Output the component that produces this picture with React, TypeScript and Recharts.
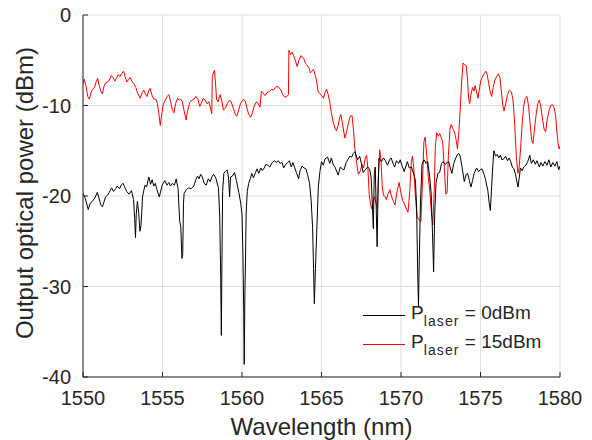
import React from 'react';
import { LineChart, Line, XAxis, YAxis, CartesianGrid, Label, Legend } from 'recharts';

const FONT = '"Liberation Sans", Arial, Helvetica, sans-serif';
const TXT = '#262626';

const xTicks = [1550, 1555, 1560, 1565, 1570, 1575, 1580];
const yTicks = [-40, -30, -20, -10, 0];

const seriesNames = ['0dBm', '15dBm'];
const seriesColors = ['#000000', '#ff0000'];

// P_laser = 0 dBm (black)
const blackWl = [
  1550.00, 1550.15, 1550.33, 1550.45, 1550.58, 1550.75, 1550.90, 1551.00, 1551.12, 1551.22,
  1551.42, 1551.55, 1551.65, 1551.80, 1551.92, 1552.05, 1552.15, 1552.30, 1552.40, 1552.52,
  1552.62, 1552.75, 1552.90, 1553.05, 1553.18, 1553.25, 1553.30, 1553.35, 1553.42, 1553.50,
  1553.58, 1553.65, 1553.75, 1553.90, 1554.00, 1554.14, 1554.25, 1554.35, 1554.45, 1554.55,
  1554.65, 1554.80, 1554.98, 1555.15, 1555.28, 1555.40, 1555.50, 1555.62, 1555.75, 1555.86,
  1555.98, 1556.08, 1556.15, 1556.22, 1556.27, 1556.32, 1556.36, 1556.50, 1556.65, 1556.80,
  1556.97, 1557.10, 1557.20, 1557.30, 1557.40, 1557.50, 1557.62, 1557.75, 1557.88, 1558.00,
  1558.10, 1558.22, 1558.35, 1558.52, 1558.60, 1558.66, 1558.70, 1558.74, 1558.78, 1558.86,
  1558.95, 1559.06, 1559.15, 1559.22, 1559.28, 1559.40, 1559.53, 1559.65, 1559.80, 1559.92,
  1560.00, 1560.06, 1560.11, 1560.14, 1560.18, 1560.22, 1560.26, 1560.33, 1560.42, 1560.52,
  1560.62, 1560.72, 1560.85, 1560.95, 1561.05, 1561.18, 1561.28, 1561.40, 1561.50, 1561.63,
  1561.75, 1561.90, 1562.05, 1562.15, 1562.28, 1562.40, 1562.52, 1562.62, 1562.75, 1562.88,
  1562.98, 1563.10, 1563.20, 1563.32, 1563.42, 1563.56, 1563.65, 1563.78, 1563.90, 1564.02,
  1564.12, 1564.25, 1564.35, 1564.44, 1564.50, 1564.55, 1564.62, 1564.70, 1564.80, 1564.90,
  1565.00, 1565.12, 1565.22, 1565.38, 1565.52, 1565.62, 1565.75, 1565.85, 1566.05, 1566.18,
  1566.30, 1566.42, 1566.55, 1566.65, 1566.78, 1566.90, 1567.00, 1567.10, 1567.27, 1567.40,
  1567.52, 1567.62, 1567.75, 1567.90, 1568.02, 1568.12, 1568.20, 1568.26, 1568.32, 1568.38,
  1568.45, 1568.50, 1568.55, 1568.62, 1568.77, 1568.90, 1569.02, 1569.15, 1569.28, 1569.38,
  1569.52, 1569.60, 1569.72, 1569.85, 1569.95, 1570.05, 1570.20, 1570.40, 1570.52, 1570.66,
  1570.80, 1570.90, 1570.98, 1571.05, 1571.10, 1571.15, 1571.22, 1571.32, 1571.45, 1571.58,
  1571.68, 1571.80, 1571.90, 1571.98, 1572.05, 1572.12, 1572.20, 1572.32, 1572.43, 1572.55,
  1572.64, 1572.78, 1572.90, 1573.00, 1573.10, 1573.20, 1573.32, 1573.42, 1573.55, 1573.63,
  1573.72, 1573.82, 1573.98, 1574.10, 1574.19, 1574.30, 1574.40, 1574.50, 1574.60, 1574.76,
  1574.88, 1574.98, 1575.10, 1575.22, 1575.32, 1575.46, 1575.55, 1575.62, 1575.70, 1575.78,
  1575.84, 1575.95, 1576.05, 1576.15, 1576.25, 1576.35, 1576.47, 1576.58, 1576.70, 1576.80,
  1576.90, 1577.00, 1577.10, 1577.20, 1577.30, 1577.36, 1577.45, 1577.51, 1577.62, 1577.72,
  1577.85, 1577.97, 1578.10, 1578.20, 1578.32, 1578.45, 1578.55, 1578.70, 1578.80, 1578.92,
  1579.05, 1579.18, 1579.30, 1579.42, 1579.55, 1579.68, 1579.80, 1579.92, 1580.00,
];
const blackDbm = [
  -19.7, -20.3, -21.5, -20.8, -20.6, -20.2, -19.6, -20.2, -21.0, -21.2,
  -20.1, -19.9, -19.6, -19.1, -19.5, -19.2, -18.9, -19.2, -18.8, -18.6,
  -19.0, -19.5, -19.8, -19.4, -20.4, -22.5, -24.6, -22.0, -20.6, -21.8,
  -23.9, -23.2, -20.0, -18.8, -19.0, -17.9, -18.7, -18.2, -18.9, -18.6,
  -19.3, -20.1, -18.8, -18.3, -18.8, -18.5, -18.9, -18.6, -18.8, -18.1,
  -19.2, -22.8, -23.4, -26.9, -26.5, -20.8, -19.7, -19.3, -19.1, -19.2,
  -18.9, -18.2, -17.8, -18.1, -17.6, -17.9, -18.6, -18.8, -18.1, -18.4,
  -17.9, -17.6, -18.0, -19.1, -22.3, -29.0, -35.4, -27.0, -19.5, -17.5,
  -17.3, -17.1, -17.9, -20.1, -17.9, -17.8, -17.4, -18.3, -19.6, -20.8,
  -22.0, -26.5, -33.0, -38.6, -31.0, -27.2, -22.0, -19.5, -18.6, -18.1,
  -17.5, -18.0, -17.4, -17.0, -17.5, -16.9, -17.2, -16.9, -16.5, -16.6,
  -16.8, -16.3, -16.1, -16.3, -16.1, -16.4, -16.3, -16.9, -16.5, -16.3,
  -16.1, -16.8, -16.3, -16.9, -17.4, -18.1, -17.2, -16.7, -16.9, -17.0,
  -17.6, -18.6, -20.5, -23.5, -28.0, -31.9, -28.0, -24.0, -19.0, -17.3,
  -16.2, -16.6, -15.9, -15.7, -16.4, -15.8, -16.6, -16.8, -17.7, -16.8,
  -17.0, -17.1, -16.3, -16.0, -15.6, -15.7, -15.3, -15.1, -16.0, -15.6,
  -16.5, -17.4, -17.1, -16.8, -17.0, -17.9, -21.0, -23.6, -17.5, -16.8,
  -22.0, -25.6, -20.0, -15.8, -16.2, -15.8, -16.1, -16.6, -16.0, -15.8,
  -16.5, -16.8, -16.1, -16.4, -16.0, -16.6, -17.3, -16.2, -16.9, -16.8,
  -17.6, -18.2, -21.0, -28.5, -32.2, -27.0, -21.0, -16.5, -16.0, -16.4,
  -16.2, -17.8, -19.8, -24.0, -28.4, -22.0, -18.6, -17.5, -17.4, -16.4,
  -16.2, -16.5, -16.3, -16.2, -16.9, -17.5, -16.4, -15.9, -15.4, -15.3,
  -15.6, -16.6, -18.4, -17.6, -17.5, -18.3, -19.0, -18.3, -17.5, -16.9,
  -17.3, -17.1, -17.0, -17.6, -18.2, -19.4, -20.8, -21.6, -19.0, -16.5,
  -15.0, -15.6, -15.4, -15.8, -15.5, -16.0, -15.9, -15.6, -16.1, -15.8,
  -16.2, -16.8, -17.0, -17.6, -18.5, -19.0, -17.8, -16.9, -17.2, -16.8,
  -16.6, -16.2, -15.5, -16.4, -16.0, -16.5, -16.1, -16.8, -16.3, -16.7,
  -16.2, -16.6, -16.0, -16.8, -16.3, -16.7, -16.2, -17.1, -16.7,
];

// P_laser = 15 dBm (red)
const redWl = [
  1550.00, 1550.08, 1550.18, 1550.30, 1550.40, 1550.50, 1550.60, 1550.72, 1550.82, 1550.92,
  1551.02, 1551.12, 1551.22, 1551.32, 1551.42, 1551.55, 1551.65, 1551.78, 1551.88, 1552.00,
  1552.10, 1552.22, 1552.32, 1552.42, 1552.55, 1552.65, 1552.76, 1552.88, 1552.97, 1553.10,
  1553.20, 1553.32, 1553.45, 1553.60, 1553.72, 1553.82, 1553.92, 1554.02, 1554.15, 1554.22,
  1554.35, 1554.45, 1554.58, 1554.68, 1554.78, 1554.86, 1554.95, 1555.05, 1555.18, 1555.30,
  1555.40, 1555.50, 1555.62, 1555.72, 1555.82, 1555.95, 1556.05, 1556.15, 1556.25, 1556.35,
  1556.48, 1556.58, 1556.70, 1556.85, 1556.98, 1557.10, 1557.22, 1557.35, 1557.45, 1557.57,
  1557.68, 1557.80, 1557.92, 1558.02, 1558.10, 1558.13, 1558.20, 1558.27, 1558.33, 1558.40,
  1558.50, 1558.62, 1558.72, 1558.83, 1558.95, 1559.08, 1559.22, 1559.32, 1559.45, 1559.58,
  1559.67, 1559.78, 1559.90, 1559.98, 1560.10, 1560.20, 1560.30, 1560.42, 1560.55, 1560.65,
  1560.78, 1560.90, 1561.00, 1561.13, 1561.22, 1561.32, 1561.45, 1561.55, 1561.66, 1561.76,
  1561.86, 1561.98, 1562.10, 1562.20, 1562.32, 1562.45, 1562.56, 1562.70, 1562.82, 1562.92,
  1562.95, 1563.05, 1563.15, 1563.25, 1563.35, 1563.47, 1563.58, 1563.70, 1563.78, 1563.88,
  1563.98, 1564.08, 1564.20, 1564.30, 1564.40, 1564.50, 1564.58, 1564.68, 1564.78, 1564.90,
  1565.02, 1565.12, 1565.22, 1565.32, 1565.42, 1565.52, 1565.62, 1565.73, 1565.85, 1565.94,
  1566.05, 1566.15, 1566.22, 1566.32, 1566.47, 1566.58, 1566.68, 1566.80, 1566.92, 1567.00,
  1567.10, 1567.22, 1567.32, 1567.45, 1567.55, 1567.65, 1567.75, 1567.84, 1567.92, 1568.00,
  1568.08, 1568.15, 1568.25, 1568.35, 1568.45, 1568.52, 1568.58, 1568.66, 1568.74, 1568.82,
  1568.90, 1569.00, 1569.08, 1569.18, 1569.30, 1569.40, 1569.52, 1569.62, 1569.75, 1569.88,
  1569.98, 1570.10, 1570.22, 1570.35, 1570.44, 1570.55, 1570.65, 1570.72, 1570.80, 1570.92,
  1571.02, 1571.12, 1571.25, 1571.35, 1571.44, 1571.52, 1571.62, 1571.72, 1571.82, 1571.92,
  1572.00, 1572.08, 1572.16, 1572.25, 1572.35, 1572.43, 1572.52, 1572.62, 1572.72, 1572.82,
  1572.90, 1572.98, 1573.08, 1573.16, 1573.25, 1573.35, 1573.45, 1573.55, 1573.62, 1573.72,
  1573.82, 1573.90, 1574.00, 1574.10, 1574.18, 1574.25, 1574.32, 1574.40, 1574.50, 1574.58,
  1574.66, 1574.75, 1574.84, 1574.92, 1575.00, 1575.10, 1575.22, 1575.34, 1575.42, 1575.52,
  1575.62, 1575.70, 1575.80, 1575.90, 1576.02, 1576.12, 1576.22, 1576.30, 1576.40, 1576.48,
  1576.58, 1576.70, 1576.82, 1576.95, 1577.05, 1577.15, 1577.25, 1577.35, 1577.42, 1577.52,
  1577.62, 1577.72, 1577.82, 1577.92, 1578.02, 1578.12, 1578.22, 1578.30, 1578.40, 1578.50,
  1578.60, 1578.70, 1578.80, 1578.90, 1579.00, 1579.10, 1579.20, 1579.32, 1579.42, 1579.52,
  1579.62, 1579.72, 1579.80, 1579.88, 1579.95, 1580.00,
];
const redDbm = [
  -7.6, -7.1, -7.8, -9.0, -9.3, -8.6, -8.2, -8.0, -7.4, -7.0,
  -7.8, -8.4, -8.7, -7.9, -7.5, -7.4, -7.2, -6.7, -6.9, -7.3,
  -7.0, -6.6, -6.8, -6.5, -6.2, -6.8, -7.4, -7.1, -6.9, -7.4,
  -7.6, -8.0, -8.7, -9.2, -8.6, -8.3, -8.7, -9.0, -8.3, -8.1,
  -8.9, -9.3, -9.3, -9.8, -11.0, -12.2, -11.0, -9.8, -9.4, -9.0,
  -8.8, -9.5, -10.5, -10.8, -9.8, -9.2, -9.4, -9.3, -9.6, -10.5,
  -11.6, -10.6, -9.7, -9.4, -9.3, -9.0, -9.3, -10.1, -9.7, -9.2,
  -9.4, -9.8, -9.6, -10.3, -10.9, -6.8, -6.4, -6.1, -7.4, -9.3,
  -9.6, -8.8, -9.4, -10.5, -10.3, -9.8, -9.4, -9.6, -10.3, -11.0,
  -11.2, -10.6, -9.8, -9.6, -9.3, -9.5, -10.2, -11.0, -11.3, -10.8,
  -10.0, -9.6, -9.7, -10.2, -8.4, -8.6, -8.9, -8.6, -8.5, -8.4,
  -8.2, -8.3, -8.0, -7.9, -8.0, -8.3, -8.8, -9.1, -9.0, -8.8,
  -3.9, -4.4, -4.1, -4.5, -5.0, -5.7, -5.0, -4.5, -4.6, -4.8,
  -5.3, -5.5, -5.8, -6.4, -6.2, -6.0, -6.5, -7.2, -8.4, -8.7,
  -8.9, -9.2, -8.6, -8.2, -8.8, -9.6, -10.8, -11.8, -12.5, -12.8,
  -12.2, -11.3, -11.0, -12.0, -13.6, -12.9, -12.0, -11.2, -11.1, -12.5,
  -14.8, -16.5, -17.6, -17.2, -16.5, -16.9, -15.8, -15.5, -17.0, -19.8,
  -20.9, -21.4, -20.6, -20.1, -21.0, -21.4, -17.5, -14.9, -16.0, -19.0,
  -19.9, -20.1, -20.4, -19.8, -19.3, -20.0, -20.6, -21.0, -19.5, -18.5,
  -19.5, -20.5, -20.9, -21.5, -21.8, -19.5, -16.2, -15.6, -16.8, -20.5,
  -22.3, -22.6, -22.8, -18.5, -14.0, -13.5, -15.5, -18.0, -19.6, -22.0,
  -23.2, -20.0, -14.5, -13.0, -13.4, -13.1, -13.5, -14.0, -16.8, -19.8,
  -19.6, -15.5, -12.6, -12.1, -12.5, -12.9, -13.6, -14.8, -13.5, -10.5,
  -7.2, -5.3, -5.5, -5.6, -7.0, -9.2, -9.8, -8.8, -8.0, -8.4,
  -7.8, -8.5, -9.2, -8.3, -7.4, -6.9, -6.5, -6.2, -6.6, -7.6,
  -8.6, -9.0, -8.0, -7.2, -6.8, -6.5, -6.9, -8.2, -10.0, -10.6,
  -9.8, -8.8, -8.3, -8.5, -9.5, -12.0, -15.5, -17.5, -17.0, -14.8,
  -12.0, -10.0, -9.2, -9.0, -10.0, -12.0, -13.8, -14.2, -12.5, -11.0,
  -9.8, -9.4, -10.2, -11.5, -12.6, -12.9, -11.5, -10.5, -10.0, -9.9,
  -10.2, -11.0, -12.8, -14.2, -14.8, -14.5,
];

const blackData = blackWl.map((w, i) => ({ wl: w, p: blackDbm[i] }));
const redData = redWl.map((w, i) => ({ wl: w, p: redDbm[i] }));

const renderLegend = () => (
  <div style={{ position: 'relative', width: 200, height: 60, fontFamily: FONT, color: TXT }}>
    {seriesNames.map((name, i) => (
      <div key={name} style={{ position: 'absolute', left: 0, top: 29 * i, width: 200, height: 29 }}>
        <div style={{ position: 'absolute', left: 0, top: 15, width: 42, borderTop: `1px solid ${seriesColors[i]}` }} />
        <div style={{ position: 'absolute', left: 48, top: 2, fontSize: 19, lineHeight: '22px', whiteSpace: 'nowrap' }}>
          P<span style={{ fontSize: 14, letterSpacing: 1.1, position: 'relative', top: 7 }}>laser</span> = {name}
        </div>
      </div>
    ))}
  </div>
);

const YTitle = (props: any) => {
  const vb = props.viewBox || {};
  const cx = (vb.x || 0) + 33;
  const cy = (vb.y || 0) + (vb.height || 0) / 2 - 3;
  return (
    <text x={cx} y={cy} transform={`rotate(-90 ${cx} ${cy})`} textAnchor="middle" fill={TXT} fontSize={24} fontFamily={FONT}>
      Output optical power (dBm)
    </text>
  );
};

export default function App() {
  const tickStyle = { fill: TXT, fontSize: 20, fontFamily: FONT };
  return (
    <div style={{ position: 'absolute', left: 0, top: 0, width: 592, height: 440, background: '#ffffff' }}>
      <LineChart width={592} height={440} margin={{ top: 15, right: 32, bottom: 0, left: 0 }}>
        <CartesianGrid xAxisId="b" yAxisId="l" stroke="#dfdfdf" strokeWidth={1} />
        <XAxis
          xAxisId="b" dataKey="wl" type="number" domain={[1550, 1580]} ticks={xTicks} interval={0}
          orientation="bottom" height={63} tickSize={-5} tickMargin={19} stroke={TXT} tick={tickStyle}
          allowDataOverflow
        >
          <Label value="Wavelength (nm)" position="insideBottom" offset={5} style={{ fontSize: 24, fill: TXT, fontFamily: FONT }} />
        </XAxis>
        <XAxis
          xAxisId="t" dataKey="wl" type="number" domain={[1550, 1580]} ticks={xTicks} interval={0}
          orientation="top" height={0} tickSize={-5} stroke={TXT} tickFormatter={() => ''} allowDataOverflow
        />
        <YAxis
          yAxisId="l" type="number" domain={[-40, 0]} ticks={yTicks} interval={0} width={83}
          tickSize={-5} tickMargin={17} stroke={TXT} tick={tickStyle} allowDataOverflow
        >
          <Label content={<YTitle />} />
        </YAxis>
        <YAxis
          yAxisId="r" orientation="right" type="number" domain={[-40, 0]} ticks={yTicks} interval={0} width={0}
          tickSize={-5} stroke={TXT} tickFormatter={() => ''} allowDataOverflow
        />
        <Line
          xAxisId="b" yAxisId="l" data={redData} dataKey="p" name={seriesNames[1]} type="linear"
          stroke={seriesColors[1]} strokeWidth={1} dot={false} activeDot={false} isAnimationActive={false}
        />
        <Line
          xAxisId="b" yAxisId="l" data={blackData} dataKey="p" name={seriesNames[0]} type="linear"
          stroke={seriesColors[0]} strokeWidth={1} dot={false} activeDot={false} isAnimationActive={false}
        />
        <Legend
          layout="vertical" align="center" verticalAlign="middle" content={renderLegend}
          wrapperStyle={{ left: 363, top: 300, width: 200, height: 60 }}
        />
      </LineChart>
    </div>
  );
}
